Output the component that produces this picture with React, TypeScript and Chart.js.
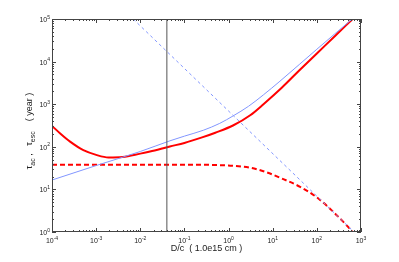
import React, { useEffect, useRef } from "react";
import { Chart, registerables } from "chart.js";

Chart.register(...registerables);

// D/c values (1.0e15 cm) and timescales (year)
const redSolidX = [1e-4, 1.58e-4, 2.57e-4, 5.13e-4, 1e-3, 1.91e-3, 3.98e-3, 0.01, 0.0166, 0.0468, 0.1, 0.251, 0.501, 1.26, 3.09, 6.17, 15.8, 39.8, 100, 251, 631];
const redSolidY = [309, 200, 132, 83.2, 64.6, 56.2, 57.5, 69.2, 77.6, 102, 123, 166, 214, 316, 550, 1000, 2400, 6170, 15490, 38900, 97700];

const blueSolidX = [1e-4, 1e-3, 0.01, 0.0468, 0.1, 0.269, 0.631, 1.29, 2.82, 6.17, 14.6, 39.8, 100, 251, 631];
const blueSolidY = [16.6, 36.3, 77.6, 138, 178, 245, 355, 537, 891, 1660, 3470, 8510, 19500, 44200, 100000];

const redDashX = [1e-4, 0.1, 1, 3.06, 7.31, 17.4, 41.7, 100, 234, 631];
const redDashY = [38, 38, 36.3, 32.4, 25.1, 17.4, 11.5, 6.5, 3.0, 1.05];

const blueDashX = [0.0069, 631];
const blueDashY = [100000, 1.1];

const markerX = [0.04, 0.04];
const markerY = [1, 100000];

const xDecades = [1e-4, 1e-3, 1e-2, 1e-1, 1, 10, 100, 1000];
const yDecades = [1, 10, 100, 1000, 10000, 100000];
const xTitle = "D/c  ( 1.0e15 cm )";

const FONT = "'Liberation Sans', Arial, Helvetica, sans-serif";

const pts = (xs: number[], ys: number[]) => xs.map((x, i) => ({ x, y: ys[i] }));
const expOf = (v: number) => String(Math.round(Math.log10(v)));

const framePlugin = {
  id: "frame",
  afterDatasetsDraw(chart: any) {
    const { ctx, chartArea: a, scales } = chart;
    const xs = scales.x, ys = scales.y;
    ctx.save();
    ctx.strokeStyle = "#444";
    ctx.lineWidth = 1;
    ctx.strokeRect(a.left + 0.5, a.top + 0.5, a.right - a.left - 1, a.bottom - a.top - 1);
    ctx.beginPath();
    for (let e = -4; e <= 3; e++) {
      for (let k = 1; k <= 9; k++) {
        const v = k * Math.pow(10, e);
        if (v > 1000 * 1.0001) continue;
        const px = Math.round(xs.getPixelForValue(v)) + 0.5;
        const len = k === 1 ? 4 : 2;
        ctx.moveTo(px, a.bottom);
        ctx.lineTo(px, a.bottom - len);
        ctx.moveTo(px, a.top);
        ctx.lineTo(px, a.top + len);
      }
    }
    for (let e = 0; e <= 5; e++) {
      for (let k = 1; k <= 9; k++) {
        const v = k * Math.pow(10, e);
        if (v > 100000 * 1.0001) continue;
        const py = Math.round(ys.getPixelForValue(v)) + 0.5;
        const len = k === 1 ? 4 : 2;
        ctx.moveTo(a.left, py);
        ctx.lineTo(a.left + len, py);
        ctx.moveTo(a.right, py);
        ctx.lineTo(a.right - len, py);
      }
    }
    ctx.stroke();

    ctx.fillStyle = "#222";
    ctx.textBaseline = "alphabetic";
    ctx.textAlign = "left";
    const big = "7px " + FONT, small = "5px " + FONT;
    for (const v of xDecades) {
      const px = xs.getPixelForValue(v);
      const ex = expOf(v);
      ctx.font = big; const w1 = ctx.measureText("10").width;
      ctx.font = small; const w2 = ctx.measureText(ex).width;
      const x0 = px - (w1 + w2) / 2;
      ctx.font = big; ctx.fillText("10", x0, a.bottom + 11);
      ctx.font = small; ctx.fillText(ex, x0 + w1, a.bottom + 7.5);
    }
    for (const v of yDecades) {
      const py = ys.getPixelForValue(v);
      const ex = expOf(v);
      ctx.font = big; const w1 = ctx.measureText("10").width;
      ctx.font = small; const w2 = ctx.measureText(ex).width;
      const x0 = a.left - 2 - w1 - w2;
      ctx.font = big; ctx.fillText("10", x0, py + 3);
      ctx.font = small; ctx.fillText(ex, x0 + w1, py - 0.5);
    }
    ctx.font = "9px " + FONT;
    ctx.textAlign = "center";
    ctx.textBaseline = "middle";
    ctx.fillText(xTitle, (a.left + a.right) / 2, 249);

    ctx.textAlign = "left";
    ctx.textBaseline = "alphabetic";
    ctx.translate(32, 131);
    ctx.rotate(-Math.PI / 2);
    const parts: [string, boolean][] = [["\u03C4", false], ["ac", true], [" ,   ", false], ["\u03C4", false], ["esc", true], ["    ( year )", false]];
    const tb = "9px " + FONT, ts = "7px " + FONT;
    let total = 0;
    for (const [t, sub] of parts) { ctx.font = sub ? ts : tb; total += ctx.measureText(t).width; }
    let cx = -total / 2;
    for (const [t, sub] of parts) {
      ctx.font = sub ? ts : tb;
      ctx.fillText(t, cx, sub ? 3 : 0);
      cx += ctx.measureText(t).width;
    }
    ctx.restore();
  },
};

export default function App() {
  const ref = useRef<HTMLCanvasElement | null>(null);
  useEffect(() => {
    if (!ref.current) return;
    const red = "#ff0000";
    const blue = "rgb(130,150,255)";
    const chart = new Chart(ref.current, {
      type: "scatter",
      data: {
        datasets: [
          { label: "marker", data: pts(markerX, markerY), showLine: true, borderColor: "#555", borderWidth: 1, pointRadius: 0 },
          { label: "blue dashed", data: pts(blueDashX, blueDashY), showLine: true, borderColor: blue, borderWidth: 1, borderDash: [3, 3], pointRadius: 0 },
          { label: "blue", data: pts(blueSolidX, blueSolidY), showLine: true, borderColor: blue, borderWidth: 1, pointRadius: 0, cubicInterpolationMode: "monotone" },
          { label: "red dashed", data: pts(redDashX, redDashY), showLine: true, borderColor: red, borderWidth: 2, borderDash: [5, 3], pointRadius: 0, cubicInterpolationMode: "monotone" },
          { label: "red", data: pts(redSolidX, redSolidY), showLine: true, borderColor: red, borderWidth: 2, pointRadius: 0, cubicInterpolationMode: "monotone" },
        ],
      },
      options: {
        animation: false,
        responsive: true,
        maintainAspectRatio: false,
        layout: { padding: { top: 19, right: 38, left: 0, bottom: 0 } },
        plugins: { legend: { display: false }, tooltip: { enabled: false } },
        scales: {
          x: {
            type: "logarithmic",
            min: 1e-4,
            max: 1000,
            grid: { display: false },
            border: { display: false },
            afterBuildTicks: (s: any) => { s.ticks = xDecades.map((v) => ({ value: v })); },
            afterFit: (s: any) => { s.height = 30; },
            ticks: { display: false },
          },
          y: {
            type: "logarithmic",
            min: 1,
            max: 100000,
            grid: { display: false },
            border: { display: false },
            afterBuildTicks: (s: any) => { s.ticks = yDecades.map((v) => ({ value: v })); },
            afterFit: (s: any) => { s.width = 52; },
            ticks: { display: false },
          },
        },
      },
      plugins: [framePlugin],
    } as any);
    return () => chart.destroy();
  }, []);
  return (
    <div style={{ position: "fixed", left: 0, top: 0, width: 399, height: 262, background: "#fff" }}>
      <canvas ref={ref} />
    </div>
  );
}
